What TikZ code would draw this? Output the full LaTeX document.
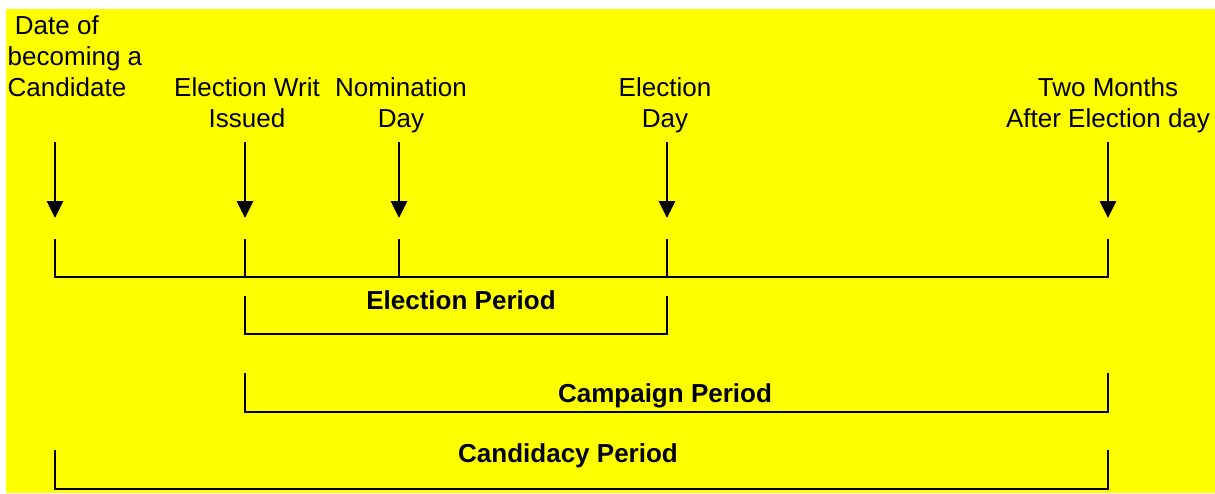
\documentclass[tikz,border=0pt]{standalone}
\usepackage{fontspec}
\setmainfont{Liberation Sans}
\usepackage{xcolor}
\usetikzlibrary{calc,arrows.meta}
\definecolor{bg}{HTML}{FFFF00}
\definecolor{ink}{HTML}{000000}
\tikzset{
  line/.style={draw=ink, line width=0.55pt},
  evarrow/.style={draw=ink, line width=0.6pt, -{Triangle[length=4.8pt,width=4.6pt]}},
  lab/.style={text=ink, font=\fontsize{7.4}{8.8}\selectfont, inner sep=0pt, align=center, anchor=base},
  per/.style={text=ink, font=\fontsize{7.4}{8.8}\selectfont\bfseries, inner sep=0pt, anchor=base},
}

\begin{document}
\begin{tikzpicture}[x=0.01cm, y=-0.01cm]
  \useasboundingbox (0,0) rectangle (1215,493);
  \fill[bg] (6,9) rectangle (1215,493);
  % points on the time line
  \coordinate (e1) at (55,277);
  \coordinate (e2) at (245,277);
  \coordinate (e3) at (399,277);
  \coordinate (e4) at (667,277);
  \coordinate (e5) at (1108,277);
  % event labels (base = last line)
  \node[lab, align=left, anchor=base west] (l1) at (7,96) {\ Date of\\becoming a\\Candidate};
  \node[lab] (l2) at (247,127) {Election Writ\\Issued};
  \node[lab] (l3) at (401,127) {Nomination\\Day};
  \node[lab] (l4) at (665,127) {Election\\Day};
  \node[lab] (l5) at (1108,127) {Two Months\\After Election day};
  % arrows
  \draw[evarrow] ($(e1)+(0,-135)$) -- ($(e1)+(0,-59)$);
  \draw[evarrow] ($(e2)+(0,-135)$) -- ($(e2)+(0,-59)$);
  \draw[evarrow] ($(e3)+(0,-135)$) -- ($(e3)+(0,-59)$);
  \draw[evarrow] ($(e4)+(0,-135)$) -- ($(e4)+(0,-59)$);
  \draw[evarrow] ($(e5)+(0,-135)$) -- ($(e5)+(0,-59)$);
  % time line
  \draw[line] ($(e1)+(0,-38)$) -- (e1) -- (e5) -- ($(e5)+(0,-38)$);
  \draw[line] ($(e2)+(0,-38)$) -- (e2);
  \draw[line] ($(e3)+(0,-38)$) -- (e3);
  \draw[line] ($(e4)+(0,-38)$) -- (e4);
  % periods
  \draw[line] ($(e2)+(0,19)$) -- ($(e2)+(0,57)$) -- ($(e4)+(0,57)$) -- ($(e4)+(0,19)$);
  \node[per] (p1) at (461,309) {Election Period};
  \draw[line] ($(e2)+(0,96)$) -- ($(e2)+(0,135)$) -- ($(e5)+(0,135)$) -- ($(e5)+(0,96)$);
  \node[per] (p2) at (665,402) {Campaign Period};
  \draw[line] ($(e1)+(0,173)$) -- ($(e1)+(0,212)$) -- ($(e5)+(0,212)$) -- ($(e5)+(0,173)$);
  \node[per] (p3) at (568,462) {Candidacy Period};
\end{tikzpicture}
\end{document}
